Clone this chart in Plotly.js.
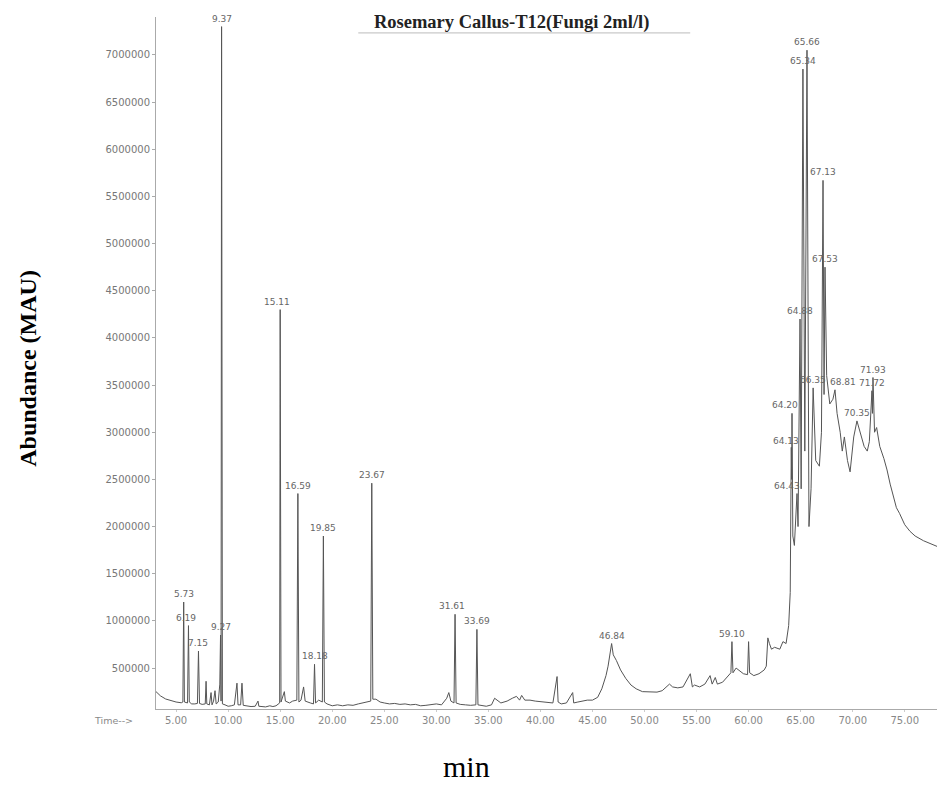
<!DOCTYPE html>
<html>
<head>
<meta charset="utf-8">
<script src="https://cdn.plot.ly/plotly-3.0.1.min.js"></script>
<style>
html,body{margin:0;padding:0;background:#fff;}
#chart{width:937px;height:787px;}
</style>
</head>
<body>
<div id="chart"></div>
<script>
// Retention time (min) and abundance
const retentionTime = [
  3.07, 3.5, 4.0, 4.5, 5.0, 5.5, 5.65, 5.73, 5.8, 6.1, 6.19, 6.27, 6.5, 6.8, 7.05, 7.15, 7.25, 7.5,
  7.8, 7.88, 7.95, 8.2, 8.36, 8.45, 8.6, 8.74, 8.85, 9.05, 9.2, 9.27, 9.32, 9.37, 9.45, 9.7,
  10.0, 10.3, 10.6, 10.85, 10.95, 11.2, 11.33, 11.45, 11.8, 12.2, 12.6, 12.87, 12.95, 13.3, 13.6, 14.0,
  14.3, 14.6, 14.85, 14.95, 15.0, 15.08, 15.4, 15.5, 15.9, 16.2, 16.6, 16.7, 16.8, 17.0, 17.25, 17.4,
  17.9, 18.2, 18.3, 18.4, 18.7, 19.05, 19.15, 19.25, 19.5, 20.0, 20.5, 21.0, 21.5, 22.0, 22.5, 23.0,
  23.5, 23.7, 23.8, 23.9, 24.2, 24.6, 25.0, 25.5, 26.0, 26.5, 27.0, 27.5, 28.0, 28.5, 29.0, 29.5,
  30.0, 30.5, 31.0, 31.2, 31.4, 31.7, 31.8, 31.9, 32.3, 32.8, 33.3, 33.8, 33.9, 34.0, 34.4, 34.8,
  35.3, 35.6, 36.2, 36.8, 37.3, 37.7, 38.0, 38.2, 38.5, 39.0, 39.5, 40.0, 40.5, 41.2, 41.6, 41.7,
  42.0, 42.5, 43.1, 43.2, 43.6, 44.0, 44.5, 45.0, 45.5, 45.9, 46.3, 46.5, 46.84, 47.0, 47.3, 47.7,
  48.2, 48.7, 49.2, 49.8, 50.5, 51.2, 51.7, 52.4, 52.7, 53.2, 53.7, 54.4, 54.6, 54.8, 55.3, 55.8,
  56.3, 56.5, 56.8, 57.0, 57.5, 58.0, 58.3, 58.4, 58.5, 58.8, 59.2, 59.5, 59.9, 60.0, 60.1, 60.5,
  61.0, 61.5, 61.7, 61.85, 62.0, 62.2, 62.5, 63.0, 63.3, 63.6, 63.85, 64.0, 64.1, 64.14, 64.17, 64.25,
  64.4, 64.65, 64.75, 64.94, 65.05, 65.22, 65.4, 65.61, 65.8, 66.0, 66.2, 66.45, 66.8, 67.0, 67.15, 67.25,
  67.34, 67.5, 67.8, 68.1, 68.3, 68.5, 68.8, 69.0, 69.2, 69.5, 69.75, 70.1, 70.41, 70.8, 71.1, 71.4,
  71.6, 71.85, 71.9, 71.95, 72.1, 72.3, 72.6, 73.0, 73.3, 73.6, 73.9, 74.2, 74.5, 75.0, 75.5, 76.0,
  76.8, 77.4, 78.1
];
const abundance = [
  250000, 205000, 172000, 152000, 140000, 132000, 140000, 1200000, 140000, 130000, 950000, 140000, 120000, 120000, 125000, 680000, 125000, 115000,
  120000, 360000, 120000, 110000, 240000, 110000, 150000, 260000, 120000, 140000, 330000, 850000, 150000, 7300000, 120000, 110000,
  95000, 100000, 110000, 340000, 110000, 110000, 340000, 105000, 100000, 92000, 95000, 150000, 95000, 90000, 88000, 100000,
  92000, 100000, 120000, 130000, 4300000, 140000, 250000, 150000, 130000, 150000, 160000, 2350000, 140000, 160000, 300000, 150000,
  130000, 120000, 540000, 130000, 160000, 140000, 1900000, 140000, 120000, 100000, 110000, 100000, 110000, 105000, 120000, 130000,
  140000, 150000, 2460000, 170000, 170000, 140000, 130000, 120000, 125000, 115000, 120000, 110000, 115000, 100000, 105000, 110000,
  120000, 110000, 180000, 240000, 150000, 130000, 1070000, 130000, 115000, 110000, 105000, 110000, 910000, 110000, 100000, 95000,
  110000, 180000, 130000, 150000, 180000, 200000, 160000, 210000, 160000, 160000, 150000, 145000, 140000, 130000, 410000, 140000,
  120000, 130000, 240000, 130000, 140000, 150000, 160000, 160000, 190000, 280000, 420000, 520000, 760000, 640000, 580000, 480000,
  390000, 320000, 280000, 250000, 245000, 245000, 260000, 330000, 300000, 290000, 300000, 440000, 300000, 320000, 300000, 330000,
  420000, 330000, 400000, 330000, 350000, 420000, 450000, 780000, 450000, 500000, 460000, 440000, 430000, 780000, 450000, 420000,
  440000, 480000, 520000, 820000, 760000, 700000, 720000, 700000, 780000, 760000, 950000, 1300000, 2840000, 2500000, 3200000, 1900000,
  1800000, 2350000, 2000000, 4200000, 2400000, 6850000, 2800000, 7050000, 2000000, 2400000, 3470000, 2700000, 2640000, 3000000, 5670000, 3400000,
  4750000, 3600000, 3300000, 3350000, 3450000, 3200000, 3000000, 2800000, 2950000, 2700000, 2580000, 2950000, 3120000, 2950000, 2850000, 2800000,
  2900000, 3440000, 3200000, 3580000, 3000000, 3050000, 2850000, 2720000, 2600000, 2450000, 2330000, 2200000, 2140000, 2020000, 1950000, 1900000,
  1850000, 1820000, 1790000
];

// Peak labels (text) and the retention time of the peak tip they mark
const peakLabels = ["5.73","6.19","7.15","9.27","9.37","15.11","16.59","18.18","19.85","23.67","31.61","33.69","46.84","59.10",
  "64.20","64.13","64.43","64.88","65.34","65.66","66.35","67.13","67.53","68.81","70.35","71.72","71.93"];
const peakTipTimes = [5.73, 6.19, 7.15, 9.27, 9.37, 15.0, 16.7, 18.3, 19.15, 23.8, 31.8, 33.9, 46.84, 58.4,
  64.17, 64.1, 64.65, 64.94, 65.22, 65.61, 66.2, 67.15, 67.34, 68.3, 70.41, 71.85, 71.95];

const yTickVals = [500000,1000000,1500000,2000000,2500000,3000000,3500000,4000000,4500000,5000000,5500000,6000000,6500000,7000000];
const xTickVals = [5,10,15,20,25,30,35,40,45,50,55,60,65,70,75];

// label pixel offsets (style only)
const labelShift = {"64.20":[-7,0],"64.13":[-5,-2],"64.43":[-10,0],"68.81":[8,0],"6.19":[-2,0],"15.11":[-3,0],"31.61":[-3,0]};

const annotations = peakLabels.map((lab, i) => {
  const t = peakTipTimes[i];
  const idx = retentionTime.indexOf(t);
  const sh = labelShift[lab] || [0,0];
  return {x: t, y: abundance[idx], xref:'x', yref:'y', text: lab, showarrow:false,
    yanchor:'bottom', xanchor:'center', xshift: sh[0], yshift: 1 + sh[1],
    font:{family:'DejaVu Sans', size:9, color:'#666'}};
});

annotations.push({xref:'paper', yref:'paper', x:-0.055, y:-0.017, text:'Time-->', showarrow:false,
  xanchor:'center', yanchor:'middle', font:{family:'DejaVu Sans', size:9.5, color:'#888'}});
annotations.push({xref:'paper', yref:'paper', x:-0.164, y:0.493, text:'<b>Abundance (MAU)</b>', textangle:-90, showarrow:false,
  xanchor:'center', yanchor:'middle', font:{family:'Liberation Serif', size:24, color:'#000'}});
annotations.push({xref:'paper', yref:'paper', x:0.398, y:-0.11, text:'min', showarrow:false,
  xanchor:'center', yanchor:'bottom', font:{family:'Liberation Serif', size:30, color:'#000'}});

const trace = {
  x: retentionTime, y: abundance, type:'scatter', mode:'lines',
  line:{color:'#555', width:1}, hoverinfo:'x+y'
};

const layout = {
  width:937, height:787,
  margin:{l:156, r:0, t:17, b:78},
  paper_bgcolor:'#fff', plot_bgcolor:'#fff',
  showlegend:false,
  title:{text:'<b>Rosemary Callus-T12(Fungi 2ml/l)</b>', x:0.546, xanchor:'center', y:0.973, yanchor:'middle',
    font:{family:'Liberation Serif', size:18.5, color:'#222'}},
  xaxis:{range:[3.07,78.1], showline:true, linecolor:'#aaa', linewidth:1, showgrid:false, zeroline:false,
    tickvals:xTickVals, ticktext:xTickVals.map(v=>v.toFixed(2)), ticks:'outside', ticklen:2, tickcolor:'#ccc',
    tickfont:{family:'DejaVu Sans', size:10, color:'#888'}},
  yaxis:{range:[66000,7402000], showline:true, linecolor:'#aaa', linewidth:1, showgrid:false, zeroline:false,
    tickvals:yTickVals, ticktext:yTickVals.map(v=>String(v)), ticks:'outside', ticklen:3, tickcolor:'#aaa',
    tickfont:{family:'DejaVu Sans', size:10, color:'#777'}},
  shapes:[{type:'line', xref:'paper', yref:'paper', x0:0.259, x1:0.684, y0:0.977, y1:0.977,
    line:{color:'#bbb', width:1}}],
  annotations: annotations
};

Plotly.newPlot('chart', [trace], layout, {displayModeBar:false, staticPlot:true});
</script>
</body>
</html>
